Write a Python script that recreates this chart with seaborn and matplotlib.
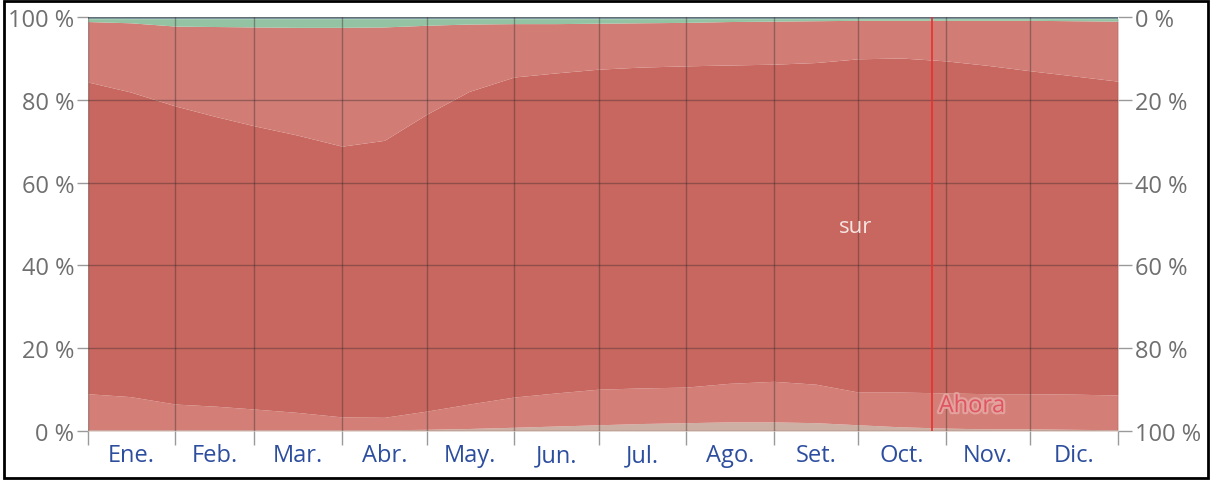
import matplotlib
matplotlib.use("Agg")
import matplotlib.pyplot as plt
import matplotlib.patheffects as pe
from matplotlib.patches import Rectangle
import numpy as np
import seaborn as sns

# Day of year for each sample (semi-monthly)
days = [0, 15, 31, 45, 59, 74, 90, 105, 120, 135, 151, 166, 181,
        196, 212, 227, 243, 258, 273, 288, 304, 319, 334, 349, 365]

# Share of hours (%) for each wind direction, stacked from the bottom
este = [0.3, 0.3, 0.3, 0.3, 0.3, 0.3, 0.3, 0.3, 0.4, 0.6, 0.9, 1.2, 1.5,
        1.8, 2.0, 2.2, 2.2, 2.0, 1.5, 1.0, 0.7, 0.5, 0.5, 0.4, 0.3]
sureste = [8.7, 8.0, 6.2, 5.7, 5.0, 4.2, 3.1, 3.0, 4.4, 5.9, 7.3, 8.0, 8.6,
           8.6, 8.6, 9.3, 9.8, 9.3, 7.9, 8.4, 8.5, 8.5, 8.5, 8.5, 8.4]
sur = [75.3, 73.6, 72.0, 70.0, 68.4, 67.0, 65.4, 66.9, 71.7, 75.5, 77.3, 77.3, 77.3,
       77.5, 77.6, 76.9, 76.6, 77.7, 80.5, 80.7, 80.2, 79.3, 78.0, 76.9, 75.8]
suroeste = [14.6, 16.7, 19.3, 21.7, 23.9, 26.0, 28.7, 27.4, 21.5, 16.3, 12.9, 11.9, 11.1,
            10.7, 10.5, 10.5, 10.4, 10.1, 9.3, 9.1, 9.8, 10.9, 12.2, 13.3, 14.5]
oeste = [0.7, 1.0, 1.8, 1.9, 2.0, 2.1, 2.1, 2.0, 1.6, 1.3, 1.2, 1.2, 1.1,
         1.0, 0.9, 0.7, 0.6, 0.5, 0.4, 0.4, 0.4, 0.4, 0.4, 0.5, 0.6]
norte = [0.4, 0.4, 0.4, 0.4, 0.4, 0.4, 0.4, 0.4, 0.4, 0.4, 0.4, 0.4, 0.4,
         0.4, 0.4, 0.4, 0.4, 0.4, 0.4, 0.4, 0.4, 0.4, 0.4, 0.4, 0.4]

series = [este, sureste, sur, suroeste, oeste, norte]
colors = ["#CDAFA3", "#D37F78", "#C8675F", "#D17D76", "#93C3A2", "#7F9EA6"]

months = ["Ene.", "Feb.", "Mar.", "Abr.", "May.", "Jun.",
          "Jul.", "Ago.", "Set.", "Oct.", "Nov.", "Dic."]
month_starts = [0, 31, 59, 90, 120, 151, 181, 212, 243, 273, 304, 334, 365]
pct_ticks = [0, 20, 40, 60, 80, 100]

now_day = 299

sns.set_theme(style="white")
plt.rcParams["font.family"] = ["Open Sans", "DejaVu Sans"]

fig = plt.figure(figsize=(12.12, 4.81), dpi=100)
ax = fig.add_axes([0.0726, 0.1019, 0.8498, 0.8607])

ax.stackplot(days, *series, colors=colors, linewidth=0)

ax.set_xlim(0, 365)
ax.set_ylim(0, 100)

grid_kw = dict(color="#3a2a2a", alpha=0.4, linewidth=1.0, zorder=3)
for d in month_starts:
    ax.axvline(d, **grid_kw)
for p in pct_ticks:
    ax.axhline(p, **grid_kw)

# Current-date marker
ax.axvline(now_day, color="#E8302E", linewidth=1.2, zorder=4)
ax.text(now_day + 2.5, 6.0, "Ahora", color="#E05560", fontsize=17,
        va="center", ha="left", zorder=5,
        path_effects=[pe.withStroke(linewidth=3, foreground="#E3A29E")])

ax.text(272, 49.5, "sur", color="#F6E4E2", fontsize=16,
        ha="center", va="center", zorder=5)

for s in ax.spines.values():
    s.set_visible(False)

ax.set_xticks(month_starts)
ax.set_xticklabels([])
ax.set_xticks([(a + b) / 2 for a, b in zip(month_starts[:-1], month_starts[1:])], minor=True)
ax.set_xticklabels(months, minor=True)
ax.tick_params(axis="x", which="major", length=10, width=1, color="#9a9a9a",
               direction="out", bottom=True)
ax.tick_params(axis="x", which="minor", length=0, pad=9, labelsize=17,
               labelcolor="#2D4E9E")

ax.set_yticks(pct_ticks)
ax.set_yticklabels([f"{p} %" for p in pct_ticks])
ax.tick_params(axis="y", length=8, width=1, color="#9a9a9a", direction="out",
               left=True, labelsize=17, labelcolor="#6f6f6f", pad=2)

ax2 = ax.twinx()
ax2.set_ylim(100, 0)
ax2.set_yticks(pct_ticks)
ax2.set_yticklabels([f"{p} %" for p in pct_ticks])
ax2.tick_params(axis="y", length=10, width=1, color="#9a9a9a", direction="out",
                right=True, labelsize=17, labelcolor="#6f6f6f", pad=2)
for s in ax2.spines.values():
    s.set_visible(False)
ax2.grid(False)

fig.patches.append(Rectangle((0.003, 0.005), 0.994, 0.99, transform=fig.transFigure,
                             fill=False, edgecolor="black", linewidth=2))

fig.savefig("out.png", dpi=100)
